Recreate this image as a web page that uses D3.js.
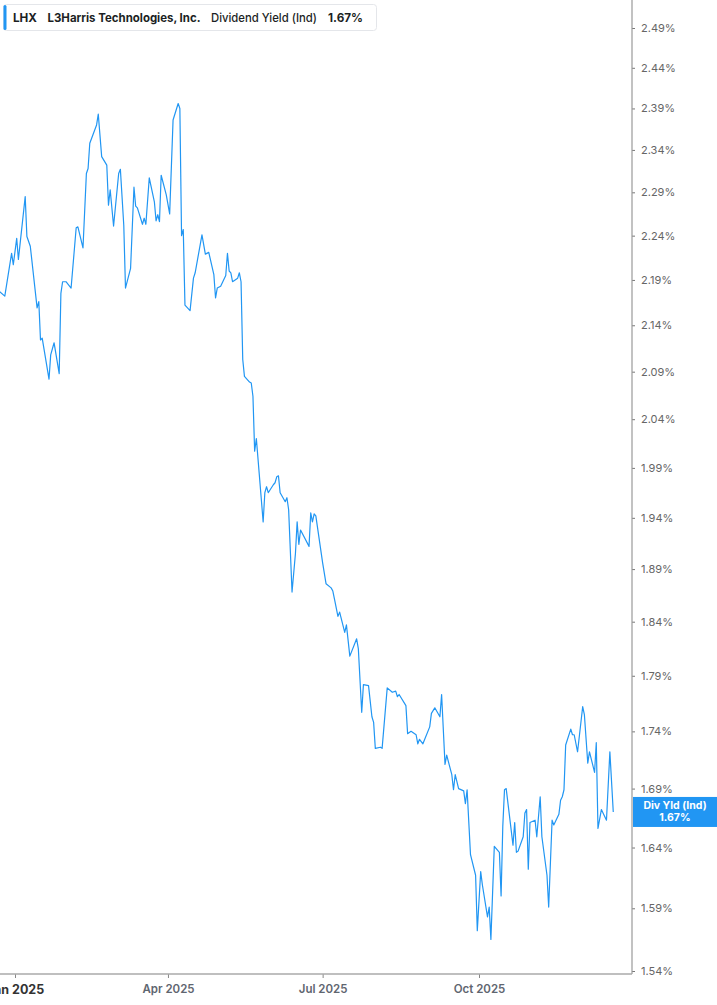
<!DOCTYPE html>
<html>
<head>
<meta charset="utf-8">
<script src="https://cdn.jsdelivr.net/npm/d3@7"></script>
<style>
  html, body { margin: 0; padding: 0; background: #fff; }
  svg { display: block; font-family: Inter, "Noto Sans", sans-serif; }
</style>
</head>
<body>
<svg id="chart" width="717" height="1005"></svg>
<script>
// LHX dividend yield (Ind), %
const dates = [
  "2024-12-23","2024-12-26","2024-12-30","2024-12-31","2025-01-02","2025-01-03","2025-01-07","2025-01-08",
  "2025-01-10","2025-01-14","2025-01-15","2025-01-16","2025-01-17","2025-01-21","2025-01-22","2025-01-24",
  "2025-01-27","2025-01-28","2025-01-29","2025-01-31","2025-02-03","2025-02-06","2025-02-07","2025-02-10",
  "2025-02-12","2025-02-13","2025-02-14","2025-02-18","2025-02-19","2025-02-21","2025-02-24","2025-02-25",
  "2025-02-26","2025-02-28","2025-03-03","2025-03-04","2025-03-06","2025-03-07","2025-03-10","2025-03-12",
  "2025-03-13","2025-03-14","2025-03-17","2025-03-18","2025-03-19","2025-03-21","2025-03-24","2025-03-25",
  "2025-03-26","2025-03-27","2025-03-28","2025-03-31","2025-04-02","2025-04-04","2025-04-07","2025-04-08",
  "2025-04-09","2025-04-10","2025-04-11","2025-04-14","2025-04-16","2025-04-17","2025-04-21","2025-04-23",
  "2025-04-25","2025-04-28","2025-04-29","2025-04-30","2025-05-02","2025-05-05","2025-05-06","2025-05-07",
  "2025-05-08","2025-05-09","2025-05-12","2025-05-13","2025-05-14","2025-05-15","2025-05-16","2025-05-19",
  "2025-05-20","2025-05-21","2025-05-22","2025-05-23","2025-05-27","2025-05-28","2025-05-29","2025-05-30",
  "2025-06-02","2025-06-03","2025-06-04","2025-06-05","2025-06-06","2025-06-09","2025-06-10","2025-06-11",
  "2025-06-13","2025-06-15","2025-06-16","2025-06-17","2025-06-18","2025-06-23","2025-06-24","2025-06-25",
  "2025-06-26","2025-06-27","2025-07-01","2025-07-03","2025-07-06","2025-07-07","2025-07-08","2025-07-10",
  "2025-07-11","2025-07-14","2025-07-15","2025-07-17","2025-07-21","2025-07-22","2025-07-24","2025-07-25",
  "2025-07-28","2025-07-30","2025-07-31","2025-08-01","2025-08-04","2025-08-05","2025-08-08","2025-08-11",
  "2025-08-13","2025-08-14","2025-08-15","2025-08-19","2025-08-20","2025-08-22","2025-08-25","2025-08-26",
  "2025-08-27","2025-08-29","2025-09-02","2025-09-03","2025-09-05","2025-09-08","2025-09-09","2025-09-11",
  "2025-09-12","2025-09-15","2025-09-16","2025-09-17","2025-09-19","2025-09-22","2025-09-23","2025-09-24",
  "2025-09-26","2025-09-29","2025-09-30","2025-10-02","2025-10-03","2025-10-06","2025-10-07","2025-10-08",
  "2025-10-10","2025-10-13","2025-10-14","2025-10-15","2025-10-16","2025-10-17","2025-10-21","2025-10-22",
  "2025-10-23","2025-10-24","2025-10-27","2025-10-28","2025-10-29","2025-10-30","2025-10-31","2025-11-03",
  "2025-11-04","2025-11-06","2025-11-07","2025-11-10","2025-11-11","2025-11-13","2025-11-14","2025-11-17",
  "2025-11-18","2025-11-19","2025-11-20","2025-11-21","2025-11-24","2025-11-25","2025-11-26","2025-11-28",
  "2025-12-01","2025-12-02","2025-12-04","2025-12-05","2025-12-08","2025-12-09","2025-12-10","2025-12-12",
  "2025-12-15","2025-12-17","2025-12-19"
];

const yields = [
  2.177,2.172,2.220,2.207,2.237,2.213,2.285,2.239,
  2.228,2.159,2.166,2.124,2.126,2.082,2.108,2.121,
  2.088,2.175,2.188,2.188,2.181,2.249,2.250,2.226,
  2.312,2.318,2.348,2.370,2.383,2.332,2.322,2.275,
  2.293,2.251,2.312,2.317,2.252,2.181,2.203,2.296,
  2.274,2.272,2.253,2.260,2.253,2.307,2.279,2.257,
  2.264,2.256,2.310,2.287,2.265,2.376,2.396,2.390,
  2.240,2.247,2.162,2.156,2.192,2.198,2.241,2.219,
  2.221,2.196,2.170,2.181,2.183,2.195,2.220,2.200,
  2.198,2.188,2.192,2.198,2.188,2.103,2.085,2.079,
  2.078,2.064,2.007,2.020,1.936,1.965,1.971,1.965,
  1.973,1.975,1.981,1.982,1.965,1.956,1.960,1.948,
  1.868,1.905,1.936,1.914,1.928,1.912,1.945,1.936,
  1.944,1.942,1.896,1.876,1.872,1.869,1.861,1.845,
  1.849,1.830,1.837,1.808,1.824,1.815,1.757,1.782,
  1.781,1.753,1.748,1.725,1.726,1.725,1.779,1.775,
  1.776,1.771,1.773,1.763,1.738,1.740,1.737,1.729,
  1.733,1.729,1.744,1.756,1.761,1.753,1.773,1.711,
  1.719,1.702,1.689,1.702,1.690,1.688,1.677,1.689,
  1.634,1.617,1.572,1.620,1.609,1.583,1.591,1.565,
  1.641,1.636,1.600,1.658,1.689,1.690,1.642,1.661,
  1.636,1.637,1.649,1.669,1.672,1.622,1.661,1.663,
  1.649,1.683,1.649,1.617,1.591,1.663,1.659,1.668,
  1.680,1.683,1.689,1.728,1.742,1.737,1.737,1.722,
  1.762,1.755,1.712,1.722,1.704,1.730,1.656,1.672,
  1.663,1.722,1.670
];

const yTicks = [1.54,1.59,1.64,1.69,1.74,1.79,1.84,1.89,1.94,1.99,2.04,2.09,2.14,2.19,2.24,2.29,2.34,2.39,2.44,2.49];
const xTicks = ["2025-01-01","2025-04-01","2025-07-01","2025-10-01"];

const ticker = "LHX";
const company = "L3Harris Technologies, Inc.";
const seriesName = "Dividend Yield (Ind)";
const badgeName = "Div Yld (Ind)";

const parse = d3.timeParse("%Y-%m-%d");
const data = dates.map((d, i) => ({ date: parse(d), value: yields[i] }));
const last = data[data.length - 1];

const svg = d3.select("#chart");
const plotRight = 632;
const plotBottom = 974;
const blue = "#2196f3";

// x: calibrate on two quarter ticks, then widen to the plot edges
const x = d3.scaleTime()
  .domain([parse(xTicks[0]), parse(xTicks[3])])
  .range([15, 479]);
x.domain([x.invert(0), x.invert(plotRight)]).range([0, plotRight]);

// y: log scale, calibrated on the outer ticks
const y = d3.scaleLog()
  .domain([yTicks[yTicks.length - 1], yTicks[0]])
  .range([28, 971]);
y.domain([y.invert(plotBottom), y.invert(0)]).range([plotBottom, 0]);

svg.append("defs").append("clipPath").attr("id", "clip")
  .append("rect").attr("x", 0).attr("y", 0).attr("width", plotRight).attr("height", plotBottom);

// line
svg.append("path")
  .datum(data)
  .attr("clip-path", "url(#clip)")
  .attr("fill", "none")
  .attr("stroke", blue)
  .attr("stroke-width", 1.2)
  .attr("stroke-linejoin", "round")
  .attr("d", d3.line().x(d => x(d.date)).y(d => y(d.value)));

// right axis
const yAxis = svg.append("g")
  .attr("transform", `translate(${plotRight},0)`)
  .call(d3.axisRight(y).tickValues(yTicks).tickSize(3).tickPadding(6)
    .tickFormat(d => d3.format(".2f")(d) + "%"));
yAxis.select(".domain").remove();
yAxis.selectAll(".tick line").attr("stroke", "#777");
yAxis.selectAll(".tick text")
  .attr("fill", "#666")
  .style("font-size", "11px")
  .style("font-family", "Inter, sans-serif");

svg.append("line")
  .attr("x1", plotRight).attr("x2", plotRight)
  .attr("y1", 0).attr("y2", plotBottom)
  .attr("stroke", "#999").attr("stroke-width", 1.2);

// bottom axis
const monthFmt = d3.timeFormat("%b %Y");
const xAxis = svg.append("g")
  .attr("transform", `translate(0,${plotBottom})`)
  .call(d3.axisBottom(x).tickValues(xTicks.map(parse)).tickSize(4).tickPadding(7)
    .tickFormat(monthFmt));
xAxis.select(".domain").remove();
xAxis.selectAll(".tick line").attr("stroke", "#888");
xAxis.selectAll(".tick text")
  .attr("fill", d => d.getMonth() === 0 ? "#333" : "#5f6670")
  .style("font-size", d => d.getMonth() === 0 ? "12.5px" : "11.5px")
  .style("font-weight", d => d.getMonth() === 0 ? 700 : 600)
  .style("font-family", "Inter, sans-serif");

svg.append("line")
  .attr("x1", 0).attr("x2", plotRight)
  .attr("y1", plotBottom).attr("y2", plotBottom)
  .attr("stroke", "#aaa").attr("stroke-width", 1.5);

// last value badge
const by = y(last.value);
const badge = svg.append("g");
badge.append("rect")
  .attr("x", plotRight + 1).attr("y", by - 15)
  .attr("width", 717 - plotRight - 1).attr("height", 30)
  .attr("fill", blue);
badge.append("text")
  .attr("x", 675).attr("y", by - 2.5)
  .attr("text-anchor", "middle")
  .attr("fill", "#fff")
  .style("font-size", "10.5px").style("font-weight", 700)
  .text(badgeName);
badge.append("text")
  .attr("x", 675).attr("y", by + 9.5)
  .attr("text-anchor", "middle")
  .attr("fill", "#fff")
  .style("font-size", "10.5px").style("font-weight", 700)
  .text(d3.format(".2f")(last.value) + "%");

// legend
const legend = svg.append("g");
legend.append("rect")
  .attr("x", 3.5).attr("y", 4.5).attr("width", 373).attr("height", 26)
  .attr("rx", 3).attr("fill", "#fff").attr("stroke", "#e4e6ea");
legend.append("rect")
  .attr("x", 3.5).attr("y", 5).attr("width", 3).attr("height", 25)
  .attr("rx", 1.5).attr("fill", blue);
const legendParts = [
  { text: ticker, x: 13, w: 24, weight: 700 },
  { text: company, x: 47.5, w: 153, weight: 700 },
  { text: seriesName, x: 211, w: 106, weight: 500 },
  { text: d3.format(".2f")(last.value) + "%", x: 328, w: 35, weight: 700 }
];
legend.selectAll("text.part")
  .data(legendParts)
  .join("text")
  .attr("class", "part")
  .attr("x", d => d.x)
  .attr("y", 21.5)
  .attr("fill", "#1c1f24")
  .attr("textLength", d => d.w)
  .attr("lengthAdjust", "spacingAndGlyphs")
  .style("font-size", "12px")
  .style("font-weight", d => d.weight)
  .text(d => d.text);
</script>
</body>
</html>
